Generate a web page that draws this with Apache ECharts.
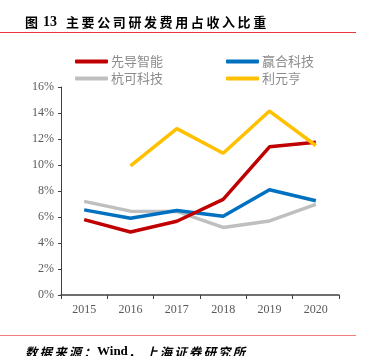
<!DOCTYPE html>
<html><head><meta charset="utf-8">
<script src="https://cdn.jsdelivr.net/npm/echarts@6/dist/echarts.min.js"></script>
<style>html,body{margin:0;padding:0;background:#fff}#c{width:366px;height:356px}</style>
</head><body><div id="c"></div>
<script>
var years = ['2015','2016','2017','2018','2019','2020'];
var xiandao = [5.8, 4.85, 5.67, 7.35, 11.4, 11.75];
var yinghe = [6.55, 5.9, 6.5, 6.05, 8.1, 7.25];
var hangke = [7.2, 6.45, 6.43, 5.2, 5.7, 6.97];
var liyuanheng = [null, 9.93, 12.8, 10.9, 14.15, 11.5];
var names = ['先导智能','赢合科技','杭可科技','利元亨'];
var colors = ['#C00000','#0070C0','#BFBFBF','#FFC000'];
var yTicks = {min:0, max:16, interval:2};

var chart = echarts.init(document.getElementById('c'), null, {renderer:'canvas'});
var cjk = '"Noto Sans CJK SC", sans-serif';
var serif = '"Liberation Serif", "Times New Roman", serif';
function leg(i, left, top){
  return {data:[names[i]], left:left, top:top, itemWidth:33, itemHeight:4, itemGap:0, icon:'roundRect',
    padding:0, selectedMode:false,
    textStyle:{color:'#8c8c8c', fontSize:13, fontFamily:cjk, padding:[0,0,0,-2]}};
}
// spaced text: each character drawn as its own text element
function spaced(str, x0, step, y, font){
  var out = [];
  for (var i=0;i<str.length;i++){
    out.push({type:'text', x:x0+step*i, y:y, style:{text:str[i], font:font, fill:'#000', textVerticalAlign:'middle', verticalAlign:'middle'}});
  }
  return out;
}
var titleFont = 'bold 13px '+cjk;
var footFont = 'italic bold 12.5px '+cjk;
var graphics = [
  {type:'text', x:25, y:22, style:{text:'图', font:titleFont, fill:'#000', verticalAlign:'middle'}},
  {type:'text', x:43, y:22, style:{text:'13', font:'bold 14px '+serif, fill:'#000', verticalAlign:'middle'}}
].concat(spaced('主要公司研发费用占收入比重', 66, 15.6, 22, titleFont))
 .concat(spaced('数据来源：', 25, 14.6, 352, footFont))
 .concat([{type:'text', x:97, y:352, style:{text:'Wind', font:'bold 13px '+serif, fill:'#000', verticalAlign:'middle'}}])
 .concat(spaced('，', 128, 14.6, 352, footFont))
 .concat(spaced('上海证券研究所', 145, 14.6, 352, footFont))
 .concat([
  {type:'line', shape:{x1:0,y1:32.5,x2:356,y2:32.5}, style:{stroke:'#E8383D', lineWidth:1}},
  {type:'line', shape:{x1:0,y1:335.5,x2:356,y2:335.5}, style:{stroke:'#F08080', lineWidth:1}}
 ]);
var datas = [xiandao, yinghe, hangke, liyuanheng];
chart.setOption({
  animation:false,
  color: colors,
  graphic: graphics,
  legend:[leg(0,75,55), leg(1,226,55), leg(2,75,72), leg(3,226,72)],
  grid:{left:61, right:27, top:87, bottom:61},
  xAxis:{type:'category', data:years, boundaryGap:true,
    axisLine:{lineStyle:{color:'#404040', width:1.5}},
    axisTick:{show:true, inside:false, length:4, lineStyle:{color:'#404040'}},
    axisLabel:{color:'#595959', fontSize:12, fontFamily:serif, margin:9}},
  yAxis:{type:'value', min:yTicks.min, max:yTicks.max, interval:yTicks.interval,
    axisLine:{show:true, lineStyle:{color:'#404040', width:1}},
    axisTick:{show:true, inside:false, length:3, lineStyle:{color:'#404040'}},
    splitLine:{show:false},
    axisLabel:{color:'#595959', fontSize:12, fontFamily:serif, margin:7, formatter:'{value}%'}},
  series: datas.map(function(d,i){
    return {name:names[i], type:'line', data:d, symbol:'none', connectNulls:false,
      lineStyle:{width:3.5, color:colors[i]}, itemStyle:{color:colors[i]}, z: [4,3,2,5][i]};
  })
});
</script></body></html>
